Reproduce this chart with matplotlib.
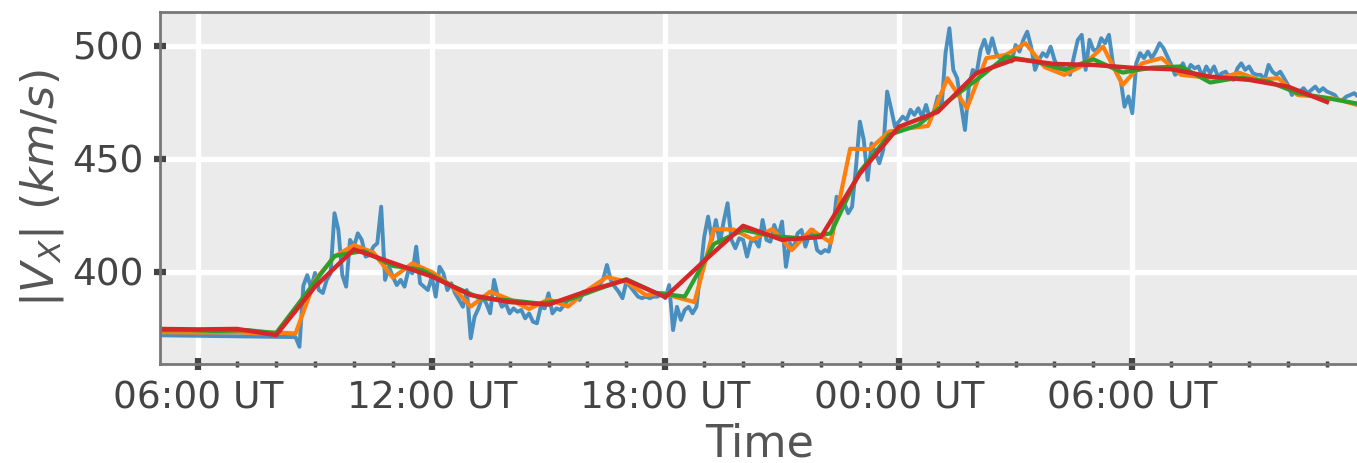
import numpy as np
import pandas as pd
import matplotlib
matplotlib.use('Agg')
import matplotlib.pyplot as plt
import matplotlib.dates as mdates

# Сутки, к которым привязаны измерения (ось подписана только часами)
day = pd.Timestamp('2015-03-17')

# |Vx| исходный ряд: до 08:30 пропуск (две точки), дальше шаг 6 минут
t_gap = [day + pd.Timedelta('05:00:00')]
vx_gap = [372.0]
t_raw_start = day + pd.Timedelta('08:30:00')
vx_raw = [
    371.2, 366.9, 394.0, 398.6, 392.9, 399.6, 392.0, 390.7, 396.5, 399.4,
    426.0, 418.6, 398.7, 393.5, 414.2, 411.2, 417.1, 414.2, 406.8, 407.5,
    411.2, 412.7, 428.9, 396.5, 402.3, 397.9, 394.2, 396.5, 393.5, 400.9,
    399.4, 411.2, 395.0, 393.5, 392.0, 397.9, 389.1, 402.3, 399.4, 392.0,
    395.0, 390.6, 387.6, 384.6, 392.0, 370.7, 380.2, 383.9, 389.1, 386.1,
    381.7, 396.5, 389.1, 384.6, 386.1, 381.7, 383.9, 382.4, 383.2, 379.5,
    381.7, 378.0, 377.3, 384.6, 383.9, 390.6, 381.7, 383.9, 383.2, 385.4,
    387.6, 388.4, 389.8, 387.6, 391.3, 390.6, 392.8, 392.8, 394.2, 396.5,
    403.1, 396.5, 393.5, 391.3, 388.4, 395.7, 393.5, 391.3, 389.1, 388.4,
    389.1, 388.4, 389.1, 389.1, 390.6, 388.4, 394.2, 374.3, 384.6, 378.8,
    383.2, 384.6, 381.7, 384.6, 399.4, 415.6, 424.5, 414.2, 423.0, 412.7,
    422.3, 430.4, 414.2, 410.5, 414.9, 414.2, 406.8, 413.4, 414.2, 411.2,
    423.0, 414.2, 413.4, 420.8, 415.6, 422.3, 402.3, 412.7, 410.5, 417.1,
    418.6, 411.2, 416.4, 418.6, 409.7, 408.3, 409.7, 409.0, 417.1, 433.3,
    428.9, 430.4, 426.0, 428.9, 446.6, 466.5, 458.4, 440.7, 456.9, 452.5,
    448.1, 454.0, 479.8, 472.4, 464.3, 466.5, 468.7, 467.3, 471.7, 469.5,
    472.4, 468.7, 473.9, 468.0, 470.9, 477.6, 473.1, 496.8, 507.8, 489.4,
    485.7, 473.9, 462.8, 482.0, 489.4, 487.9, 498.2, 502.7, 496.8, 503.4,
    496.8, 494.6, 492.3, 495.3, 493.1, 500.4, 497.5, 502.7, 506.3, 499.7,
    489.4, 493.8, 496.8, 495.3, 499.7, 493.8, 490.1, 490.8, 489.4, 487.2,
    495.3, 502.7, 504.9, 489.4, 502.7, 498.2, 498.2, 503.4, 501.2, 504.9,
    492.3, 487.9, 485.0, 473.1, 477.6, 470.2, 492.3, 496.8, 494.6, 497.5,
    494.6, 497.5, 501.2, 499.0, 495.3, 491.6, 487.2, 488.6, 492.3, 487.9,
    491.6, 490.1, 490.9, 486.4, 490.9, 487.9, 490.9, 486.4, 487.9, 488.6,
    485.7, 485.0, 490.1, 492.3, 489.4, 490.9, 487.9, 487.2, 487.2, 485.0,
    491.6, 488.6, 487.2, 488.6, 485.7, 482.7, 478.3, 480.5, 479.8, 481.3,
    479.1, 480.5, 482.0, 479.8, 481.3, 479.8, 479.1, 478.3, 476.1, 476.1,
    477.6, 478.3, 479.1, 477.6,
]

# Средние по 30 минут (до 18:00 метки на :00/:30, потом на :15/:45)
vx_30a = [
    373.4, 373.3, 373.2, 373.3, 373.4, 372.9, 373.2, 372.8, 396.5, 406.8,
    411.9, 408.6, 397.5, 403.8, 400.0, 394.0, 384.7, 391.3, 387.9, 383.6,
    387.9, 384.7, 392.0, 397.8, 395.7, 389.8, 390.6,
]
vx_30b = [
    389.0, 386.7, 419.0, 418.8, 414.4, 419.0, 409.7, 418.8, 413.0, 454.5,
    454.3, 462.1, 463.6, 464.6, 485.7, 472.4, 494.6, 496.0, 501.2, 490.6,
    487.2, 491.6, 499.7, 482.7, 492.3, 494.6, 487.2, 486.3, 485.8, 488.1,
    485.0, 485.7, 478.3, 477.6, 476.5, 474.0,
]

# Средние по 45 минут
vx_45 = [
    374.3, 374.3, 373.9, 374.3, 373.0, 390.0, 407.1, 409.3, 402.7, 400.9,
    394.0, 388.4, 387.5, 386.1, 387.6, 392.3, 396.8, 390.8, 389.1, 412.4,
    418.6, 415.9, 414.9, 417.1, 444.4, 460.6, 465.0, 475.4, 485.0, 495.3,
    493.1, 489.4, 494.1, 488.2, 490.4, 490.9, 483.8, 486.0, 484.2, 479.1,
    476.9, 474.6,
]

# Средние по часу
vx_60 = [
    374.8, 374.6, 374.8, 372.1, 393.5, 410.0, 404.0, 398.0, 389.8, 386.7,
    385.6, 391.6, 396.5, 388.9, 404.9, 420.4, 414.2, 415.5, 443.6, 464.2,
    470.8, 488.0, 494.2, 492.0, 491.6, 490.3, 489.7, 486.4, 485.0, 482.0,
    475.2,
]

# Временные метки
t_raw = t_gap + list(pd.date_range(t_raw_start, periods=len(vx_raw), freq='6min'))
vx_all = vx_gap + vx_raw
t_30 = list(pd.date_range(day + pd.Timedelta('05:00:00'), periods=len(vx_30a), freq='30min')) + \
       list(pd.date_range(day + pd.Timedelta('18:15:00'), periods=len(vx_30b), freq='30min'))
vx_30 = vx_30a + vx_30b
t_45 = pd.date_range(day + pd.Timedelta('05:00:00'), periods=len(vx_45), freq='45min')
t_60 = pd.date_range(day + pd.Timedelta('05:00:00'), periods=len(vx_60), freq='h')

fig = plt.figure(figsize=(13.57, 4.63), dpi=100)
ax = fig.add_axes([160 / 1357, 99 / 463, 1200 / 1357, 352 / 463])
ax.set_facecolor('#EBEBEB')

ax.plot(t_raw, vx_all, color='#1f77b4', alpha=0.8, lw=2.8)
ax.plot(t_30, vx_30, color='#ff7f0e', lw=3.0)
ax.plot(t_45, vx_45, color='#2ca02c', lw=3.0)
ax.plot(t_60, vx_60, color='#d62728', lw=3.2)

ax.set_xlim(day + pd.Timedelta('05:01:00'), day + pd.Timedelta('1 days 11:51:00'))
ax.set_ylim(359.3, 515)
ax.set_yticks([400, 450, 500])

ax.xaxis.set_major_locator(mdates.HourLocator(byhour=[0, 6, 12, 18]))
ax.xaxis.set_minor_locator(mdates.HourLocator())
ax.xaxis.set_major_formatter(mdates.DateFormatter('%H:%M UT'))

ax.grid(True, which='major', color='white', lw=3.8)
ax.set_axisbelow(True)
for s in ['left', 'top', 'bottom']:
    ax.spines[s].set_color('#777777')
    ax.spines[s].set_linewidth(2.0)
ax.spines['right'].set_visible(False)

ax.tick_params(which='major', direction='inout', length=8, width=4.5, color='#444444',
               labelsize=27, labelcolor='#444444')
ax.tick_params(axis='x', which='major', pad=8)
ax.tick_params(axis='y', which='major', pad=8)
ax.tick_params(axis='x', which='minor', direction='inout', length=4.5, width=2.5, color='#444444')

ax.set_xlabel('Time', fontsize=32, color='#555555', labelpad=4)
ax.set_ylabel(r'$|V_X|\ (km/s)$', fontsize=32, color='#555555')

fig.savefig('out.png', dpi=100)
